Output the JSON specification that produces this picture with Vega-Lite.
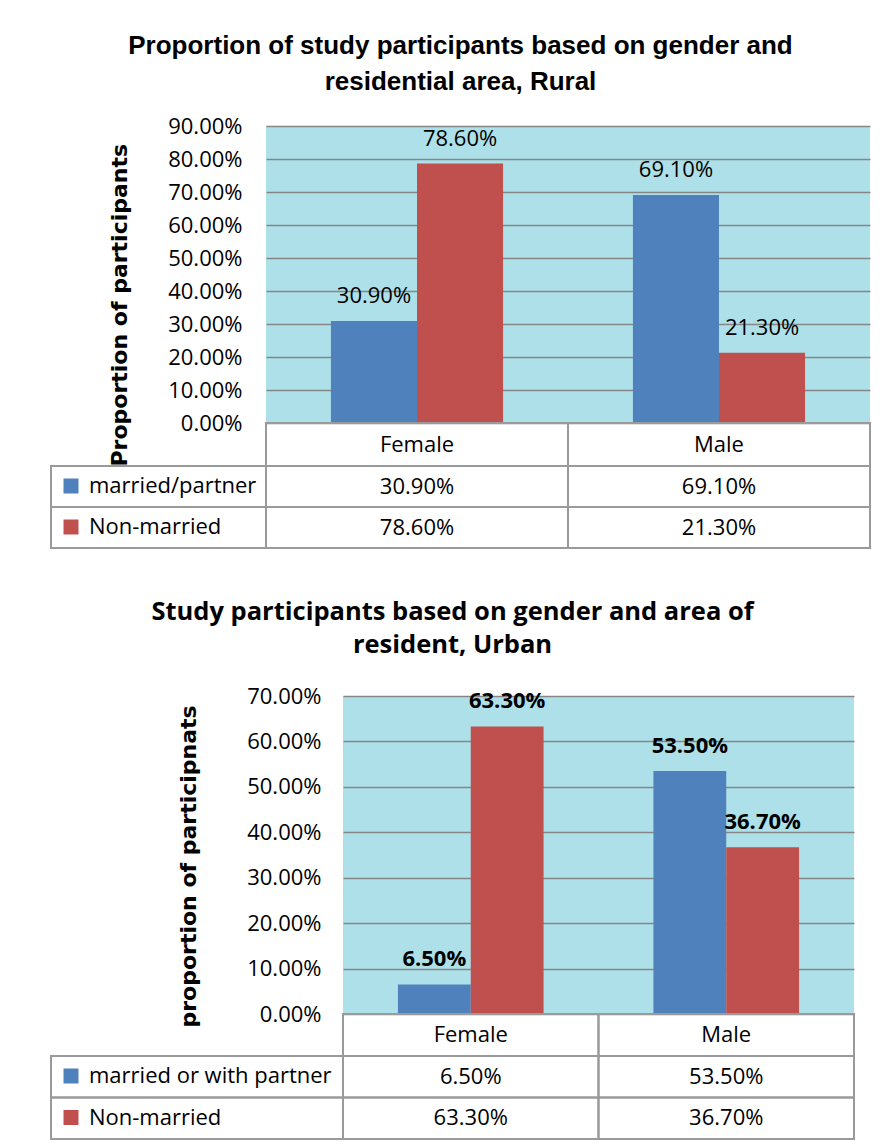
{
  "$schema": "https://vega.github.io/schema/vega-lite/v6.json",
  "padding": {"left": 50, "top": 33, "right": 0, "bottom": 0},
  "background": "white",
  "datasets": {
    "rural": [
      {"gender": "Female", "status": "married/partner", "value": 0.309},
      {"gender": "Female", "status": "Non-married", "value": 0.786},
      {"gender": "Male", "status": "married/partner", "value": 0.691},
      {"gender": "Male", "status": "Non-married", "value": 0.213}
    ],
    "urban": [
      {"gender": "Female", "status": "married or with partner", "value": 0.065},
      {"gender": "Female", "status": "Non-married", "value": 0.633},
      {"gender": "Male", "status": "married or with partner", "value": 0.535},
      {"gender": "Male", "status": "Non-married", "value": 0.367}
    ]
  },
  "spacing": 50,
  "resolve": {
    "scale": {"xOffset": "independent", "fill": "independent", "color": "independent"},
    "legend": {"fill": "independent", "color": "independent"}
  },
  "vconcat": [
    {
      "title": {
        "text": ["Proportion of study participants based on gender and", "residential area, Rural"],
        "font": "Liberation Sans", "fontSize": 26, "fontWeight": "bold", "color": "#000",
        "lineHeight": 36, "anchor": "middle", "offset": 20
      },
      "columns": 2, "spacing": 0, "bounds": "flush", "align": "each",
      "resolve": {"scale": {"xOffset": "independent", "fill": "independent", "color": "independent"}, "legend": {"fill": "independent", "color": "independent"}},
      "concat": [
        {"width": 215, "height": 297, "data": {"values": []}, "mark": {"type": "point", "opacity": 0}, "encoding": {}},
        {
          "width": 604, "height": 297,
          "view": {"fill": "#aee0ea", "stroke": null},
          "data": {"name": "rural"},
          "encoding": {
            "x": {"field": "gender", "type": "nominal", "axis": null, "scale": {"paddingInner": 0.43, "paddingOuter": 0.215}},
            "xOffset": {"field": "status", "type": "nominal", "sort": ["married/partner", "Non-married"], "scale": {"domain": ["married/partner", "Non-married"], "paddingInner": 0, "paddingOuter": 0}},
            "y": {
              "field": "value", "type": "quantitative",
              "scale": {"domain": [0, 0.9], "nice": false},
              "axis": {
                "format": ".2%", "values": [0, 0.1, 0.2, 0.3, 0.4, 0.5, 0.6, 0.7, 0.8, 0.9],
                "domain": false, "ticks": false, "labelPadding": 24,
                "labelFont": "Open Sans", "labelFontSize": 22, "labelColor": "#000",
                "grid": true, "gridColor": "#868686", "gridWidth": 1.5,
                "title": "Proportion of participants", "titleFont": "DejaVu Sans", "titleFontSize": 22,
                "titleFontWeight": "bold", "titleColor": "#000", "titlePadding": 36,
                "titleY": 340, "titleAlign": "left"
              }
            }
          },
          "layer": [
            {
              "mark": {"type": "bar"},
              "encoding": {
                "color": {"field": "status", "type": "nominal", "legend": null,
                  "scale": {"domain": ["married/partner", "Non-married"], "range": ["#4f81bd", "#c0504d"]}}
              }
            },
            {
              "mark": {"type": "text", "baseline": "middle", "dy": -25, "font": "Open Sans", "fontSize": 22},
              "encoding": {"text": {"field": "value", "type": "quantitative", "format": ".2%"}, "color": {"value": "#000"}}
            }
          ]
        },
        {"width": 215, "height": 43, "data": {"values": []}, "mark": {"type": "point", "opacity": 0}, "encoding": {}},
        {
          "width": 604, "height": 43,
          "data": {"name": "rural"},
          "transform": [{"aggregate": [{"op": "count", "as": "n"}], "groupby": ["gender"]}],
          "encoding": {
            "x": {"field": "gender", "type": "nominal", "axis": null, "scale": {"paddingInner": 0, "paddingOuter": 0}}
          },
          "layer": [
            {"mark": {"type": "rect", "fill": "white", "fillOpacity": 0, "stroke": "#9a9a9a", "strokeWidth": 2}},
            {"mark": {"type": "text", "font": "Open Sans", "fontSize": 22, "color": "#000"}, "encoding": {"text": {"field": "gender"}}}
          ]
        },
        {
          "width": 215, "height": 82,
          "data": {"name": "rural"},
          "transform": [{"aggregate": [{"op": "count", "as": "n"}], "groupby": ["status"]}],
          "mark": {"type": "rect", "fillOpacity": 0, "stroke": "#9a9a9a", "strokeWidth": 2},
          "encoding": {
            "y": {"field": "status", "type": "nominal", "sort": ["married/partner", "Non-married"], "axis": null, "scale": {"paddingInner": 0, "paddingOuter": 0}},
            "fill": {
              "field": "status", "type": "nominal",
              "scale": {"domain": ["married/partner", "Non-married"], "range": ["#4f81bd", "#c0504d"]},
              "legend": {
                "orient": "top-left", "offset": 9, "title": null, "padding": 0,
                "symbolType": "square", "symbolSize": 225, "symbolStrokeWidth": 0, "symbolOpacity": 1,
                "labelFont": "Open Sans", "labelFontSize": 22, "labelColor": "#000",
                "labelOffset": 7, "rowPadding": 19, "labelLimit": 300
              }
            }
          }
        },
        {
          "width": 604, "height": 82,
          "data": {"name": "rural"},
          "encoding": {
            "x": {"field": "gender", "type": "nominal", "axis": null, "scale": {"paddingInner": 0, "paddingOuter": 0}},
            "y": {"field": "status", "type": "nominal", "sort": ["married/partner", "Non-married"], "axis": null, "scale": {"paddingInner": 0, "paddingOuter": 0}}
          },
          "layer": [
            {"mark": {"type": "rect", "fill": "white", "fillOpacity": 0, "stroke": "#9a9a9a", "strokeWidth": 2}},
            {"mark": {"type": "text", "font": "Open Sans", "fontSize": 22, "color": "#000"}, "encoding": {"text": {"field": "value", "type": "quantitative", "format": ".2%"}}}
          ]
        }
      ]
    },
    {
      "title": {
        "text": ["Study participants based on gender and area of", "resident, Urban"],
        "font": "Open Sans", "fontSize": 25.5, "fontWeight": "bold", "color": "#000",
        "lineHeight": 33, "anchor": "middle", "offset": 27
      },
      "columns": 2, "spacing": 0, "bounds": "flush", "align": "each",
      "resolve": {"scale": {"xOffset": "independent", "fill": "independent", "color": "independent"}, "legend": {"fill": "independent", "color": "independent"}},
      "concat": [
        {"width": 292, "height": 318, "data": {"values": []}, "mark": {"type": "point", "opacity": 0}, "encoding": {}},
        {
          "width": 511, "height": 318,
          "view": {"fill": "#aee0ea", "stroke": null},
          "data": {"name": "urban"},
          "encoding": {
            "x": {"field": "gender", "type": "nominal", "axis": null, "scale": {"paddingInner": 0.43, "paddingOuter": 0.215}},
            "xOffset": {"field": "status", "type": "nominal", "sort": ["married or with partner", "Non-married"], "scale": {"domain": ["married or with partner", "Non-married"], "paddingInner": 0, "paddingOuter": 0}},
            "y": {
              "field": "value", "type": "quantitative",
              "scale": {"domain": [0, 0.7], "nice": false},
              "axis": {
                "format": ".2%", "values": [0, 0.1, 0.2, 0.3, 0.4, 0.5, 0.6, 0.7],
                "domain": false, "ticks": false, "labelPadding": 22,
                "labelFont": "Open Sans", "labelFontSize": 22, "labelColor": "#000",
                "grid": true, "gridColor": "#868686", "gridWidth": 1.5,
                "title": "proportion of participnats", "titleFont": "DejaVu Sans", "titleFontSize": 22,
                "titleFontWeight": "bold", "titleColor": "#000", "titlePadding": 46,
                "titleY": 331, "titleAlign": "left"
              }
            }
          },
          "layer": [
            {
              "mark": {"type": "bar"},
              "encoding": {
                "color": {"field": "status", "type": "nominal", "legend": null,
                  "scale": {"domain": ["married or with partner", "Non-married"], "range": ["#4f81bd", "#c0504d"]}}
              }
            },
            {
              "mark": {"type": "text", "baseline": "middle", "dy": -25, "font": "Open Sans", "fontSize": 22, "fontWeight": "bold"},
              "encoding": {"text": {"field": "value", "type": "quantitative", "format": ".2%"}, "color": {"value": "#000"}}
            }
          ]
        },
        {"width": 292, "height": 42, "data": {"values": []}, "mark": {"type": "point", "opacity": 0}, "encoding": {}},
        {
          "width": 511, "height": 42,
          "data": {"name": "urban"},
          "transform": [{"aggregate": [{"op": "count", "as": "n"}], "groupby": ["gender"]}],
          "encoding": {
            "x": {"field": "gender", "type": "nominal", "axis": null, "scale": {"paddingInner": 0, "paddingOuter": 0}}
          },
          "layer": [
            {"mark": {"type": "rect", "fill": "white", "fillOpacity": 0, "stroke": "#9a9a9a", "strokeWidth": 2}},
            {"mark": {"type": "text", "font": "Open Sans", "fontSize": 22, "color": "#000"}, "encoding": {"text": {"field": "gender"}}}
          ]
        },
        {
          "width": 292, "height": 83,
          "data": {"name": "urban"},
          "transform": [{"aggregate": [{"op": "count", "as": "n"}], "groupby": ["status"]}],
          "mark": {"type": "rect", "fillOpacity": 0, "stroke": "#9a9a9a", "strokeWidth": 2},
          "encoding": {
            "y": {"field": "status", "type": "nominal", "sort": ["married or with partner", "Non-married"], "axis": null, "scale": {"paddingInner": 0, "paddingOuter": 0}},
            "fill": {
              "field": "status", "type": "nominal",
              "scale": {"domain": ["married or with partner", "Non-married"], "range": ["#4f81bd", "#c0504d"]},
              "legend": {
                "orient": "top-left", "offset": 9, "title": null, "padding": 0,
                "symbolType": "square", "symbolSize": 225, "symbolStrokeWidth": 0, "symbolOpacity": 1,
                "labelFont": "Open Sans", "labelFontSize": 22, "labelColor": "#000",
                "labelOffset": 7, "rowPadding": 19.5, "labelLimit": 300
              }
            }
          }
        },
        {
          "width": 511, "height": 83,
          "data": {"name": "urban"},
          "encoding": {
            "x": {"field": "gender", "type": "nominal", "axis": null, "scale": {"paddingInner": 0, "paddingOuter": 0}},
            "y": {"field": "status", "type": "nominal", "sort": ["married or with partner", "Non-married"], "axis": null, "scale": {"paddingInner": 0, "paddingOuter": 0}}
          },
          "layer": [
            {"mark": {"type": "rect", "fill": "white", "fillOpacity": 0, "stroke": "#9a9a9a", "strokeWidth": 2}},
            {"mark": {"type": "text", "font": "Open Sans", "fontSize": 22, "color": "#000"}, "encoding": {"text": {"field": "value", "type": "quantitative", "format": ".2%"}}}
          ]
        }
      ]
    }
  ],
  "config": {
    "view": {"stroke": null},
    "font": "Open Sans"
  }
}
